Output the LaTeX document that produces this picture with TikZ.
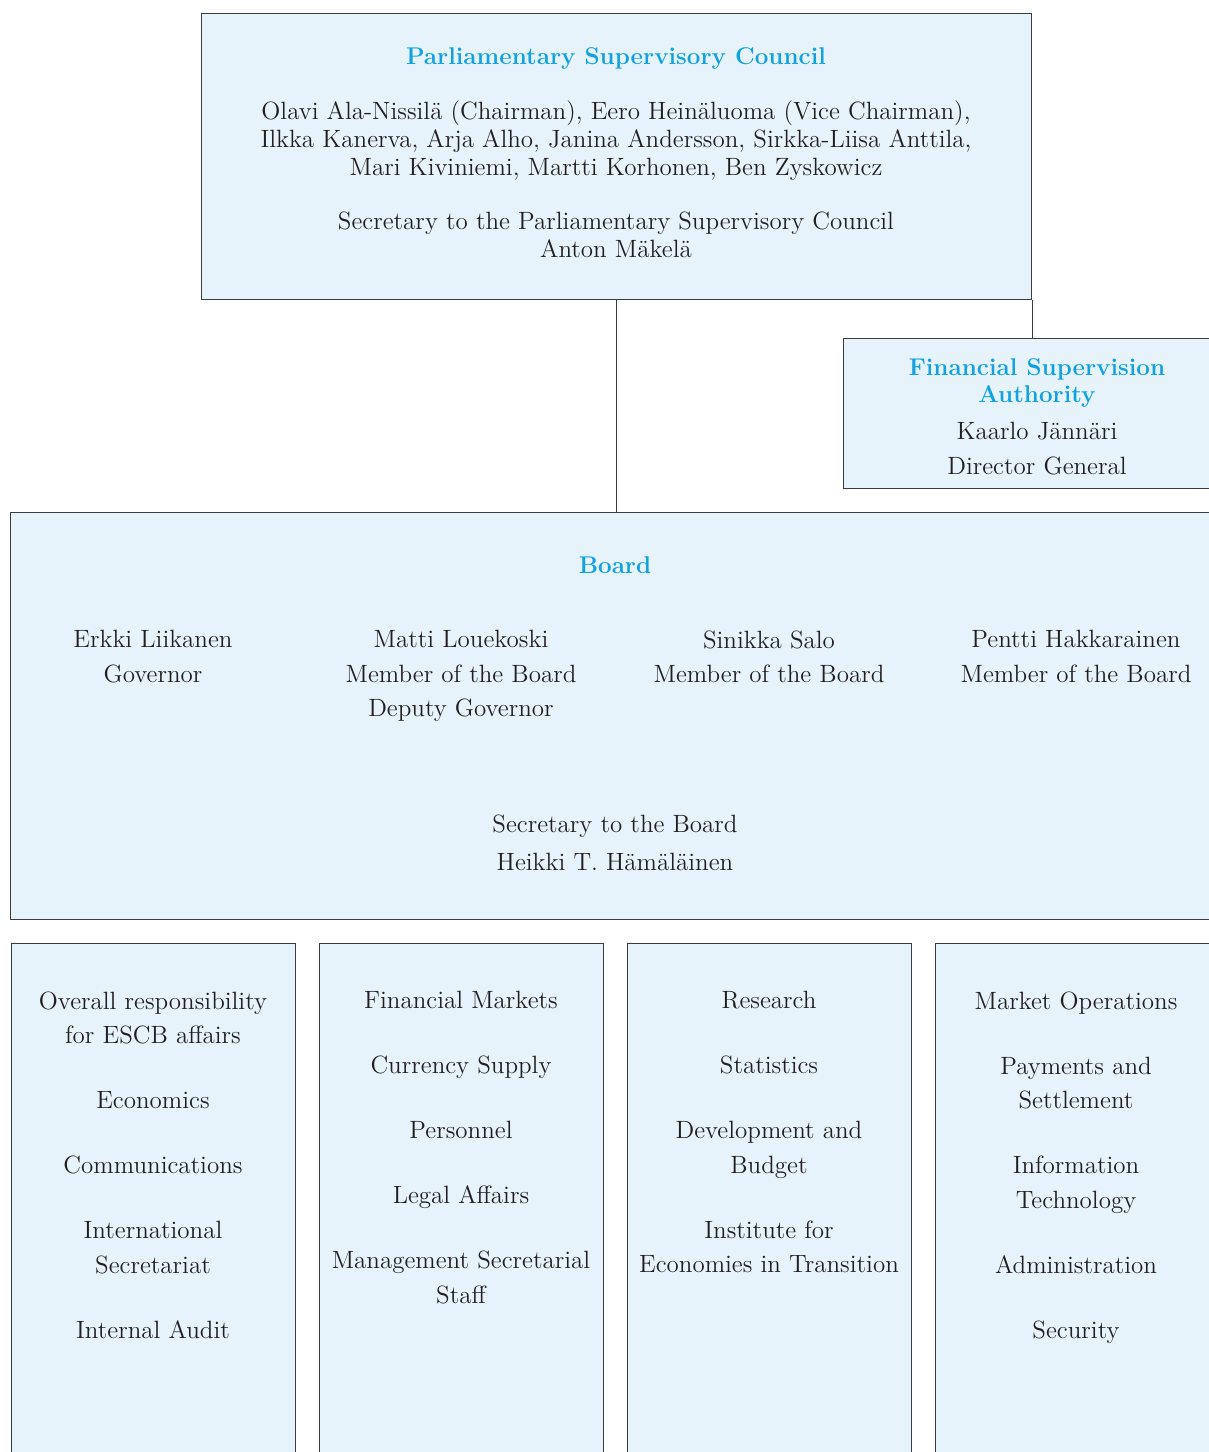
\documentclass[tikz,border=0pt]{standalone}
\usetikzlibrary{positioning}

\definecolor{boxblue}{RGB}{230,243,251}
\definecolor{titleblue}{RGB}{18,162,222}
\definecolor{inkgray}{RGB}{35,31,32}
\definecolor{edgegray}{RGB}{60,60,62}
\newcommand{\unitgap}{15.25pt}

\tikzset{
  orgbox/.style={draw=edgegray, fill=boxblue, line width=0.7pt, inner sep=0pt, anchor=north west},
  heading/.style={text=titleblue, inner sep=0pt, align=center, font=\fontsize{12.1}{13.5}\selectfont\bfseries},
  toplines/.style={text=inkgray, inner sep=0pt, align=center, anchor=north,
    font=\fontsize{12.5}{14}\selectfont, execute at begin node={\strut}},
  bodylines/.style={text=inkgray, inner sep=0pt, align=center, anchor=north,
    font=\fontsize{12.5}{17.25}\selectfont, execute at begin node={\strut}},
  link/.style={draw=edgegray, line width=0.7pt}
}

\begin{document}
\begin{tikzpicture}[x=0.5pt, y=-0.5pt]
    \useasboundingbox (0,0) rectangle (1209,1452);
    \clip (0,0) rectangle (1209,1452);

    % boxes
    \node [orgbox, minimum width=415pt, minimum height=143pt] (council) at (201,13) {};
    \node [orgbox, minimum width=193.5pt, minimum height=75pt] (fsa) at (843,338) {};
    \node [orgbox, minimum width=610pt, minimum height=203.5pt] (board) at (10,512) {};
    \node [orgbox, minimum width=142pt, minimum height=263.5pt] (dept1) at (11,943) {};
    \node [orgbox, minimum width=142pt, minimum height=263.5pt] (dept2) at (319,943) {};
    \node [orgbox, minimum width=142pt, minimum height=263.5pt] (dept3) at (627,943) {};
    \node [orgbox, minimum width=142pt, minimum height=263.5pt] (dept4) at (935,943) {};

    % connectors
    \draw [link] (council.south) -- (council.south |- board.north);
    \draw [link] (council.south east) -- (council.south east |- fsa.north);

    % council
    \node [heading, anchor=base] (councilhead) at (616,64) {Parliamentary Supervisory Council};
    \node [toplines] (councilmembers) at (616,100) {Olavi Ala-Nissilä (Chairman), Eero Heinäluoma (Vice Chairman),\\
      Ilkka Kanerva, Arja Alho, Janina Andersson, Sirkka-Liisa Anttila,\\
      Mari Kiviniemi, Martti Korhonen, Ben Zyskowicz};
    \node [toplines] (councilsecretary) at (616,211) {Secretary to the Parliamentary Supervisory Council\\Anton Mäkelä};

    % financial supervision authority
    \node [heading, anchor=north, execute at begin node={\strut}] (fsahead) at (1037,358) {Financial Supervision\\Authority};
    \node [bodylines] (fsadirector) at (1037,422) {Kaarlo Jännäri\\Director General};

    % board
    \node [heading, anchor=base] (boardhead) at (615,573) {Board};
    \node [bodylines] (governor) at (153,630) {Erkki Liikanen\\Governor};
    \node [bodylines] (louekoski) at (461,630) {Matti Louekoski\\Member of the Board\\Deputy Governor};
    \node [bodylines] (salo) at (769,630) {Sinikka Salo\\Member of the Board};
    \node [bodylines] (hakkarainen) at (1076,630) {Pentti Hakkarainen\\Member of the Board};
    \node [bodylines] (boardsecretary) at (615,814) {Secretary to the Board\\[1.75pt]Heikki T. Hämäläinen};

    % departments
    \node [bodylines] (deptlist1) at (153,991) {Overall responsibility\\for ESCB affairs\\[\unitgap]
      Economics\\[\unitgap]Communications\\[\unitgap]International\\Secretariat\\[\unitgap]Internal Audit};
    \node [bodylines] (deptlist2) at (461,991) {Financial Markets\\[\unitgap]Currency Supply\\[\unitgap]
      Personnel\\[\unitgap]Legal Affairs\\[\unitgap]Management Secretarial\\Staff};
    \node [bodylines] (deptlist3) at (769,991) {Research\\[\unitgap]Statistics\\[\unitgap]
      Development and\\Budget\\[\unitgap]Institute for\\Economies in Transition};
    \node [bodylines] (deptlist4) at (1076,991) {Market Operations\\[\unitgap]Payments and\\Settlement\\[\unitgap]
      Information\\Technology\\[\unitgap]Administration\\[\unitgap]Security};
\end{tikzpicture}
\end{document}
